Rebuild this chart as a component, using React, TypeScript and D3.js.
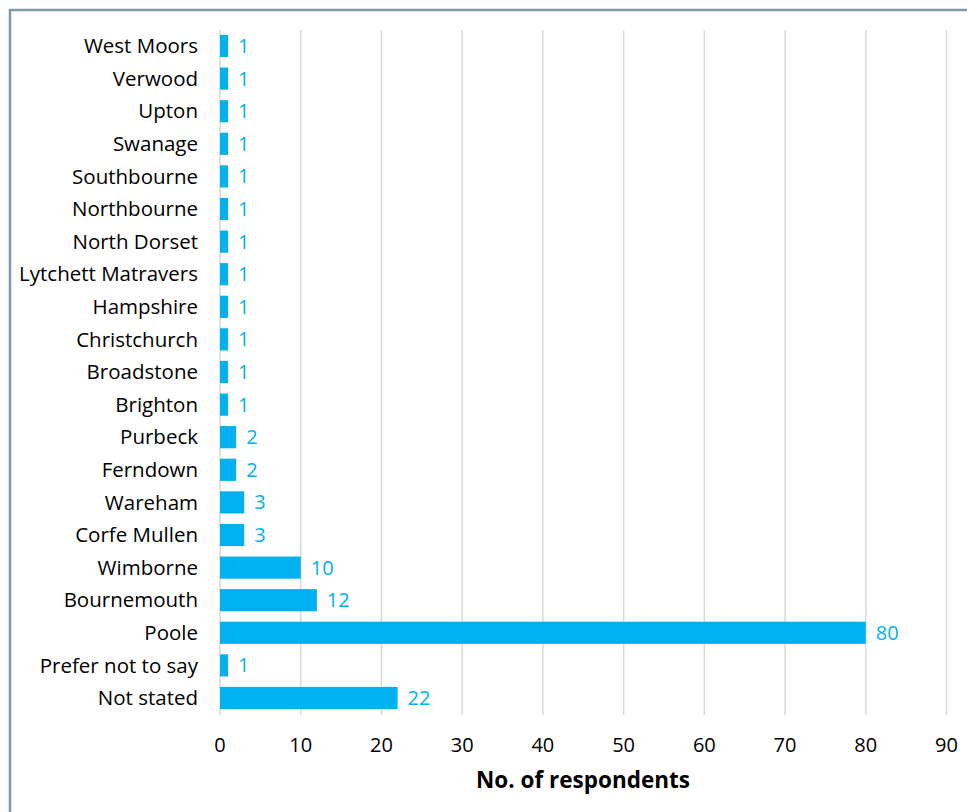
import React from "react";
import * as d3 from "d3";

const categories = [
  "West Moors", "Verwood", "Upton", "Swanage", "Southbourne", "Northbourne",
  "North Dorset", "Lytchett Matravers", "Hampshire", "Christchurch", "Broadstone",
  "Brighton", "Purbeck", "Ferndown", "Wareham", "Corfe Mullen", "Wimborne",
  "Bournemouth", "Poole", "Prefer not to say", "Not stated",
];
const values = [1, 1, 1, 1, 1, 1, 1, 1, 1, 1, 1, 1, 2, 2, 3, 3, 10, 12, 80, 1, 22];
const xTicks = [0, 10, 20, 30, 40, 50, 60, 70, 80, 90];
const xTitle = "No. of respondents";

const W = 967;
const H = 812;
const BAR = "#00b0f0";
const FONT = "'Open Sans', 'Noto Sans', sans-serif";

export default function App() {
  const x = d3.scaleLinear().domain([0, 90]).range([220, 946.5]);
  const y = d3.scaleBand().domain(categories).range([29.7, 714.3]).paddingInner(0.32).paddingOuter(0.16);
  return (
    <svg width={W} height={H} style={{ position: "absolute", left: 0, top: 0 }}>
      <rect x={0} y={0} width={W} height={H} fill="#fff" />
      <rect x={10} y={10} width={W + 20} height={H + 20} fill="#fff" stroke="#7f98aa" strokeWidth={2.5} />
      {xTicks.map((t) => (
        <line key={t} x1={x(t)} x2={x(t)} y1={30} y2={715} stroke="#d9d9d9" strokeWidth={1.5} />
      ))}
      {categories.map((c, i) => (
        <g key={c}>
          <rect x={x(0)} y={y(c)!} width={x(values[i]) - x(0)} height={y.bandwidth()} fill={BAR} />
          <text x={198} y={y(c)! + y.bandwidth() / 2} dy="0.35em" textAnchor="end" fontFamily={FONT} fontSize={20.5} fill="#000">{c}</text>
          <text x={x(values[i]) + 10} y={y(c)! + y.bandwidth() / 2} dy="0.35em" fontFamily={FONT} fontSize={20} fill={BAR}>{values[i]}</text>
        </g>
      ))}
      {xTicks.map((t) => (
        <text key={t} x={x(t)} y={745} dy="0.35em" textAnchor="middle" fontFamily={FONT} fontSize={20} fill="#000">{t}</text>
      ))}
      <text x={583} y={780} dy="0.35em" textAnchor="middle" fontFamily={FONT} fontSize={22.5} fontWeight="bold" fill="#000">{xTitle}</text>
    </svg>
  );
}
